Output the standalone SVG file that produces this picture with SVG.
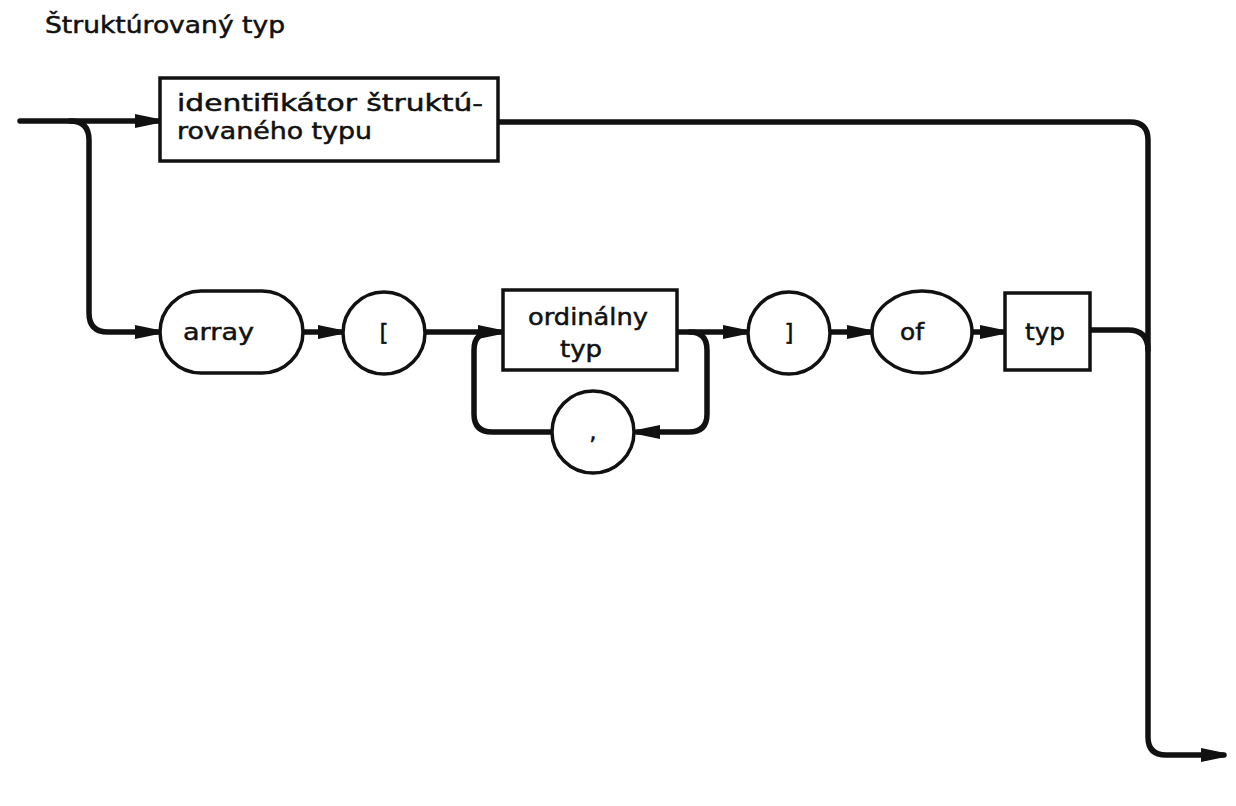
<svg xmlns="http://www.w3.org/2000/svg" width="1236" height="806" viewBox="0 0 1236 806">
<style>
.sh{fill:#fff;stroke:#111;stroke-width:3.5}
.ln{fill:none;stroke:#111;stroke-width:5.5;stroke-linecap:round;stroke-linejoin:round}
.ar{marker-end:url(#ah)}
text{font-family:"DejaVu Sans","Liberation Sans",sans-serif;font-size:23px;fill:#111;stroke:#111;stroke-width:0.5}
</style>
<defs>
<marker id="ah" markerUnits="userSpaceOnUse" markerWidth="24" markerHeight="18" viewBox="0 0 24 18" refX="23" refY="9" orient="auto">
<path d="M0 2 L24 7 L24 11 L0 16 Z" fill="#111"/>
</marker>
</defs>
<text x="45" y="33" textLength="240" lengthAdjust="spacingAndGlyphs">Štruktúrovaný typ</text>
<g id="connectors">
<path class="ln ar" d="M20 121 H158"/>
<path class="ln ar" d="M70 121 Q89 121 89 140 V313 Q89 332 108 332 H158"/>
<path class="ln ar" d="M498 122 H1130 Q1148 122 1148 140 V737 Q1148 755 1166 755 H1224"/>
<path class="ln ar" d="M303 332 H341"/>
<path class="ln ar" d="M425 332 H501"/>
<path class="ln ar" d="M677 332 H746"/>
<path class="ln ar" d="M690 332 Q707 332 707 350 V414 Q707 432 689 432 H637"/>
<path class="ln" d="M552 432 H492 Q474 432 474 414 V350 Q474 332 492 332"/>
<path class="ln ar" d="M830 332 H870"/>
<path class="ln ar" d="M973 332 H1003"/>
<path class="ln" d="M1090 330 H1128 Q1148 330 1148 350"/>
</g>
<g id="n-ident">
<rect class="sh" x="160" y="78" width="338" height="83"/>
<text x="177" y="111" textLength="306" lengthAdjust="spacingAndGlyphs">identifikátor štruktú-</text>
<text x="177" y="139" textLength="195" lengthAdjust="spacingAndGlyphs">rovaného typu</text>
</g>
<g id="n-array">
<rect class="sh" x="160" y="291" width="143" height="82" rx="41"/>
<text x="183" y="340" textLength="71" lengthAdjust="spacingAndGlyphs">array</text>
</g>
<g id="n-lbr">
<circle class="sh" cx="384" cy="333" r="41"/>
<text x="384" y="341" text-anchor="middle">[</text>
</g>
<g id="n-ordinal">
<rect class="sh" x="503" y="290" width="174" height="80"/>
<text x="528" y="325" textLength="120" lengthAdjust="spacingAndGlyphs">ordinálny</text>
<text x="560" y="357" textLength="42" lengthAdjust="spacingAndGlyphs">typ</text>
</g>
<g id="n-comma">
<circle class="sh" cx="593" cy="432" r="41"/>
<text x="593" y="439" text-anchor="middle">,</text>
</g>
<g id="n-rbr">
<circle class="sh" cx="789" cy="333" r="41"/>
<text x="789" y="341" text-anchor="middle">]</text>
</g>
<g id="n-of">
<ellipse class="sh" cx="922" cy="332" rx="50" ry="41"/>
<text x="900" y="340" textLength="24" lengthAdjust="spacingAndGlyphs">of</text>
</g>
<g id="n-typ">
<rect class="sh" x="1005" y="293" width="85" height="77"/>
<text x="1025" y="340" textLength="40" lengthAdjust="spacingAndGlyphs">typ</text>
</g>
</svg>
